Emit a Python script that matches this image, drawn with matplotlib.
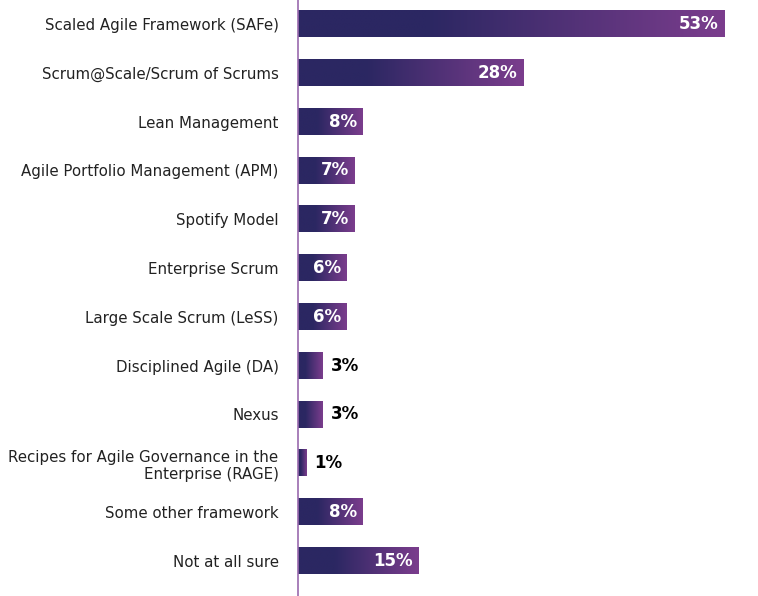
import numpy as np
import matplotlib.pyplot as plt
from matplotlib.colors import LinearSegmentedColormap

frameworks = [
    "Scaled Agile Framework (SAFe)",
    "Scrum@Scale/Scrum of Scrums",
    "Lean Management",
    "Agile Portfolio Management (APM)",
    "Spotify Model",
    "Enterprise Scrum",
    "Large Scale Scrum (LeSS)",
    "Disciplined Agile (DA)",
    "Nexus",
    "Recipes for Agile Governance in the\nEnterprise (RAGE)",
    "Some other framework",
    "Not at all sure",
]
shares = [53, 28, 8, 7, 7, 6, 6, 3, 3, 1, 8, 15]

navy = "#2b2762"
purple = "#7b3d8d"
cmap = LinearSegmentedColormap.from_list("bar", [(0, navy), (0.3, navy), (1, purple)])
grad = np.linspace(0, 1, 256).reshape(1, -1)

fig = plt.figure(figsize=(7.58, 5.96), dpi=100)
ax = fig.add_axes([298 / 758, 0, 460 / 758, 1])

h = 0.54
for i, v in enumerate(shares):
    ax.imshow(grad, cmap=cmap, aspect="auto", extent=[0, v, i + h / 2, i - h / 2],
              interpolation="bilinear", zorder=2)
    if v >= 5:
        ax.annotate(f"{v}%", (v, i), xytext=(-4, 0), textcoords="offset points",
                    ha="right", va="center", color="white", fontsize=12,
                    fontweight="bold", family="DejaVu Sans", zorder=3)
    else:
        ax.annotate(f"{v}%", (v, i), xytext=(6, 0), textcoords="offset points",
                    ha="left", va="center", color="black", fontsize=12,
                    fontweight="bold", family="DejaVu Sans", zorder=3)

ax.set_xlim(0, 57.2)
ax.set_ylim(11.72, -0.49)
ax.set_yticks(range(len(frameworks)))
labels = ax.set_yticklabels(frameworks, fontsize=10.8, family="DejaVu Sans", color="#222222")
for t in labels:
    t.set_multialignment("right")
    t.set_verticalalignment("center_baseline")
ax.tick_params(axis="y", length=0, pad=14)
ax.set_xticks([])
for s in ["top", "right", "bottom"]:
    ax.spines[s].set_visible(False)
ax.spines["left"].set_color("#9a6aae")
ax.spines["left"].set_linewidth(1.2)
ax.patch.set_alpha(0)

fig.savefig("out.png", dpi=100)
